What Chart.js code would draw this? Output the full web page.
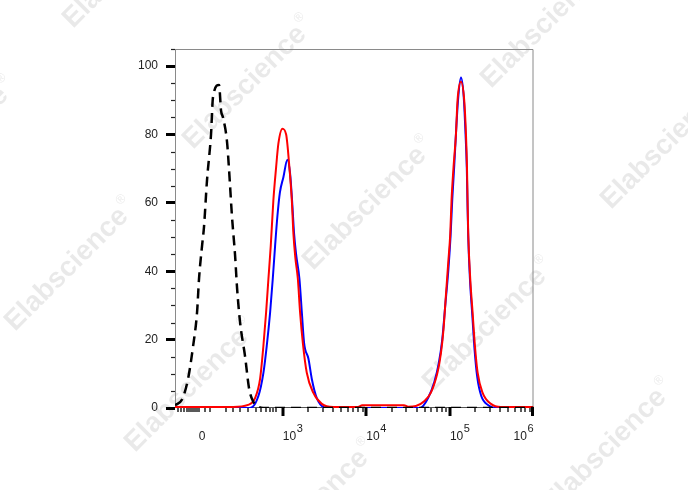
<!DOCTYPE html>
<html lang="en">
<head>
<meta charset="UTF-8">
<title>Flow cytometry histogram</title>
<script src="https://cdn.jsdelivr.net/npm/chart.js"></script>
<style>
  body { margin: 0; background: #fff; }
</style>
</head>
<body>
<canvas id="histChart" width="688" height="490"></canvas>
<script>
// x values are positions on the biexponential display axis, in decades (3 = 10^3)
const isoX = [1.71, 1.794, 1.866, 1.926, 1.974, 1.998, 2.034, 2.057, 2.093, 2.141, 2.165, 2.237, 2.261, 2.284, 2.332, 2.356, 2.392, 2.429, 2.453, 2.489, 2.549, 2.597, 2.644, 2.692, 2.764, 3.2, 4.0, 5.0, 6.0];
const isoY = [0.8, 2.5, 8.5, 18, 28, 38, 47.5, 53, 66.6, 80, 91, 94.5, 87, 85, 78, 70, 56, 44.6, 35, 25, 15, 5.6, 2, 0.6, 0, 0, 0, 0, 0];

const redX = [1.71, 2.405, 2.584, 2.668, 2.728, 2.768, 2.800, 2.828, 2.856, 2.887, 2.920, 2.947, 2.995, 3.040, 3.079, 3.108, 3.127, 3.150, 3.180, 3.207, 3.240, 3.287, 3.366, 3.467, 3.602, 3.90, 3.95, 4.45, 4.50, 4.593, 4.692, 4.772, 4.851, 4.892, 4.923, 4.952, 4.980, 5.004, 5.019, 5.043, 5.072, 5.091, 5.132, 5.171, 5.192, 5.204, 5.211, 5.219, 5.243, 5.271, 5.299, 5.331, 5.390, 5.491, 5.611, 6.0];
const redY = [0.3, 0.3, 0.9, 2.9, 8.5, 18.2, 27.9, 37.8, 47.5, 60.7, 70.4, 77.3, 81.7, 80, 70.4, 60.7, 51, 44, 37.8, 27.9, 19, 10.3, 4.4, 1.2, 0.3, 0.3, 0.8, 0.8, 0.4, 0.6, 2, 4.5, 10.4, 16, 23, 33, 42.6, 51, 60.7, 70.4, 80, 90, 95.4, 90, 80, 70.4, 60.7, 51, 37.8, 28, 18.2, 10.4, 4.5, 1.2, 0.3, 0.3];

const blueX = [2.32, 2.608, 2.708, 2.768, 2.808, 2.848, 2.880, 2.908, 2.935, 2.965, 3.007, 3.055, 3.087, 3.111, 3.135, 3.159, 3.199, 3.228, 3.255, 3.307, 3.347, 3.407, 3.527, 4.644, 4.740, 4.812, 4.866, 4.908, 4.944, 4.980, 5.007, 5.028, 5.052, 5.076, 5.100, 5.132, 5.165, 5.187, 5.202, 5.210, 5.219, 5.241, 5.268, 5.295, 5.327, 5.375, 5.459, 5.567, 6.0];
const blueY = [0, 0, 3.5, 10.3, 18.2, 27.9, 37.8, 47.5, 56, 63, 67.5, 72.6, 68.6, 60.7, 51, 45, 37.8, 27.9, 19, 14.4, 8.5, 2.9, 0, 0, 3, 7.5, 13, 20, 30, 40, 50, 61, 71, 82, 91, 96.7, 91, 80, 70, 60, 50, 37, 27, 17, 9, 3.5, 0.8, 0, 0];

const yTicks = [0, 20, 40, 60, 80, 100];
const xTickPos = [2.034, 3, 4, 5, 6];
const xTickBase = ['0', '10', '10', '10', '10'];
const xTickExp = ['', '3', '4', '5', '6'];
const xMajorPos = [3, 4, 5, 6];
// small ticks around zero and below 10^3 (biex linear region)
const xMinorLow = [1.746, 1.782, 1.818, 1.854, 1.878, 1.902, 1.926, 1.95, 1.974, 1.998, 2.07, 2.13, 2.321, 2.405, 2.489, 2.584, 2.68, 2.74, 2.8, 2.848, 2.884, 2.92];

const FONT = '"Liberation Sans", Arial, Helvetica, sans-serif';

function pairs(xs, ys) {
    return xs.map((x, i) => ({ x: x, y: ys[i] }));
}

function line(ctx, x1, y1, x2, y2) {
    ctx.beginPath();
    ctx.moveTo(x1, y1);
    ctx.lineTo(x2, y2);
    ctx.stroke();
}

const flowAxes = {
    id: 'flowAxes',
    beforeDraw(chart) {
        const ctx = chart.ctx;
        ctx.save();
        ctx.fillStyle = '#fff';
        ctx.fillRect(0, 0, chart.width, chart.height);
        // watermark grid
        ctx.fillStyle = 'rgba(0,0,0,0.085)';
        for (let i = -3; i <= 4; i++) {
            for (let j = -3; j <= 3; j++) {
                const x = 193 + i * 120 + j * 178;
                const y = 150 + i * 121 - j * 182;
                if (x < -300 || x > 720 || y < -50 || y > 760) continue;
                ctx.save();
                ctx.translate(x, y);
                ctx.rotate(-Math.PI / 4);
                ctx.font = 'bold 28px ' + FONT;
                ctx.fillText('Elabscience', 0, 0);
                const w = ctx.measureText('Elabscience').width;
                ctx.font = '13px ' + FONT;
                ctx.fillText('\u00AE', w + 2, -15);
                ctx.restore();
            }
        }
        ctx.restore();
    },
    beforeDatasetsDraw(chart) {
        const ctx = chart.ctx, a = chart.chartArea;
        ctx.save();
        ctx.lineWidth = 1;
        ctx.strokeStyle = '#8a8a8a';
        line(ctx, a.left + 0.5, a.top + 0.5, a.right - 0.5, a.top + 0.5);
        line(ctx, a.right - 0.5, a.top + 0.5, a.right - 0.5, a.bottom);
        line(ctx, a.left + 0.5, a.top, a.left + 0.5, a.bottom);
        ctx.strokeStyle = '#555';
        line(ctx, a.left, a.bottom - 0.5, a.right, a.bottom - 0.5);
        ctx.restore();
    },
    afterDraw(chart) {
        const ctx = chart.ctx, a = chart.chartArea;
        const xs = chart.scales.x, ys = chart.scales.y;
        ctx.save();
        ctx.strokeStyle = '#222';
        // y minor ticks
        ctx.lineWidth = 1.2;
        for (let v = 5; v <= 105; v += 5) {
            if (v % 20 === 0) continue;
            const py = Math.round(ys.getPixelForValue(v)) + 0.5;
            line(ctx, a.left - 4, py, a.left, py);
        }
        // x minor ticks
        const minors = xMinorLow.slice();
        for (let d = 3; d < 6; d++) {
            for (let k = 2; k <= 9; k++) minors.push(d + Math.log10(k));
        }
        ctx.lineWidth = 1.5;
        minors.forEach(v => {
            const px = Math.round(xs.getPixelForValue(v));
            line(ctx, px, a.bottom, px, a.bottom + 4);
        });
        // x major ticks
        ctx.strokeStyle = '#000';
        ctx.lineWidth = 3;
        xMajorPos.forEach(v => {
            const px = Math.min(Math.round(xs.getPixelForValue(v)), a.right - 1);
            line(ctx, px, a.bottom - 1, px, a.bottom + 8);
        });
        // x labels with superscripts
        ctx.fillStyle = '#222';
        ctx.textBaseline = 'alphabetic';
        xTickPos.forEach((v, i) => {
            const px = xs.getPixelForValue(v);
            ctx.font = '12px ' + FONT;
            const wb = ctx.measureText(xTickBase[i]).width;
            if (!xTickExp[i]) {
                ctx.textAlign = 'center';
                ctx.fillText(xTickBase[i], px, 440);
                return;
            }
            ctx.font = '11px ' + FONT;
            const we = ctx.measureText(xTickExp[i]).width;
            const left = Math.min(px, a.right - wb - we - 0.5);
            ctx.textAlign = 'left';
            ctx.font = '12px ' + FONT;
            ctx.fillText(xTickBase[i], left, 440);
            ctx.font = '11px ' + FONT;
            ctx.fillText(xTickExp[i], left + wb + 0.5, 432);
        });
        ctx.restore();
    }
};

const ctx = document.getElementById('histChart').getContext('2d');
const histChart = new Chart(ctx, {
    type: 'line',
    data: {
        datasets: [
            { label: 'Isotype', data: pairs(isoX, isoY), borderColor: '#000', borderWidth: 2.5, borderDash: [10, 6], order: 0 },
            { label: 'Red', data: pairs(redX, redY), borderColor: '#ff0000', borderWidth: 2, order: 1 },
            { label: 'Blue', data: pairs(blueX, blueY), borderColor: '#0000ff', borderWidth: 2, order: 2 }
        ]
    },
    options: {
        responsive: false,
        animation: false,
        elements: {
            point: { radius: 0 },
            line: { cubicInterpolationMode: 'monotone', fill: false }
        },
        layout: { padding: { left: 0, top: 49, right: 154.5, bottom: 82 } },
        plugins: { legend: { display: false }, tooltip: { enabled: false } },
        scales: {
            x: { type: 'linear', min: 1.71, max: 6.0, display: false },
            y: {
                type: 'linear', min: 0, max: 105,
                afterFit: s => { s.width = 175; },
                afterBuildTicks: s => { s.ticks = yTicks.map(v => ({ value: v })); },
                grid: { drawOnChartArea: false, tickLength: 9, tickWidth: 3, tickColor: '#000' },
                border: { display: false },
                ticks: { padding: 8, color: '#222', font: { family: FONT, size: 12 } }
            }
        }
    },
    plugins: [flowAxes]
});
</script>
</body>
</html>
